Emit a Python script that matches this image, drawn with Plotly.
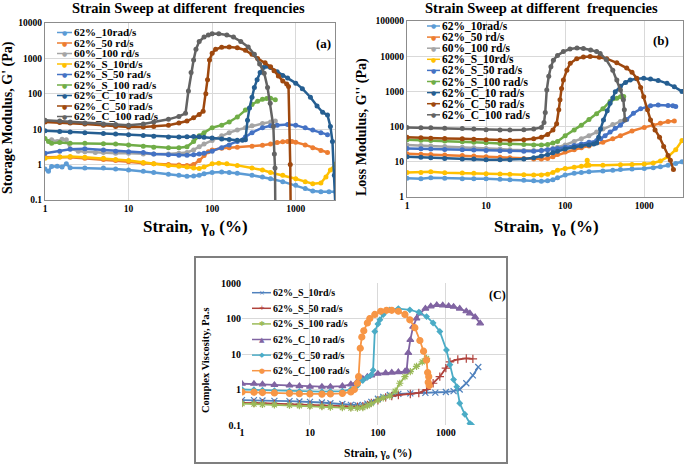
import plotly.graph_objects as go

W, H = 685, 465
FONT = "Liberation Serif"

# ---------------- series names / colours ----------------
AB_NAMES = ["62%_10rad/s", "62%_50 rd/s", "60%_100 rd/s", "62%_S_10rd/s", "62%_S_50 rad/s",
            "62%_S_100 rad/s", "62%_C_10 rad/s", "62%_C_50 rad/s", "62%_C_100 rad/s"]
AB_COLORS = ["#5B9BD5", "#ED7D31", "#A5A5A5", "#FFC000", "#4472C4",
             "#70AD47", "#255E91", "#9E480E", "#636363"]
C_NAMES = ["62%_S_10rd/s", "62%_S_50 rad/s", "62%_S_100 rad/s",
           "62%_C_10 rad/s", "62%_C_50 rad/s", "62%_C_100 rad/s"]
C_COLORS = ["#4F81BD", "#B0423C", "#9BBB59", "#8064A2", "#4BACC6", "#F79646"]

# ---------------- panel (a): storage modulus G' (Pa) ----------------
A_10_x = [1, 1.1, 1.2, 1.4, 1.6, 1.8, 2, 3, 5, 7, 10, 15, 20, 30, 40, 50, 60, 70, 80, 100, 130, 160, 200, 300, 400, 500, 700, 1000, 1300, 1600, 2000, 2500, 3000]
A_10_y = [0.75, 0.65, 0.88, 0.9, 0.85, 1.05, 0.82, 0.8, 0.8, 0.75, 0.7, 0.65, 0.6, 0.53, 0.5, 0.47, 0.48, 0.5, 0.55, 0.6, 0.62, 0.6, 0.57, 0.5, 0.45, 0.4, 0.33, 0.26, 0.21, 0.18, 0.17, 0.17, 0.17]
A_50_x = [1, 1.5, 2, 3, 5, 7, 10, 15, 20, 30, 40, 50, 60, 70, 80, 90, 100, 130, 160, 200, 300, 400, 500, 600, 700, 800, 900, 1000, 1300, 1600, 2000, 2400]
A_50_y = [1.6, 1.65, 1.6, 1.5, 1.4, 1.3, 1.2, 1.1, 1.05, 1.0, 0.97, 0.95, 1.0, 1.3, 1.8, 2.3, 2.6, 2.9, 3.0, 3.1, 3.3, 3.5, 3.8, 4.2, 4.4, 4.5, 4.5, 4.3, 3.6, 3.0, 2.5, 2.2]
A_100_x = [1.2, 1.4, 1.6, 1.8, 2, 2.5, 3, 4, 5, 7, 10, 15, 20, 30, 40, 50, 60, 70, 80, 100, 130, 160, 200, 250, 300, 400, 500, 570]
A_100_y = [5.0, 4.5, 5.2, 5.0, 2.8, 2.4, 2.3, 2.2, 2.2, 2.1, 2.1, 2.0, 2.0, 2.0, 2.1, 2.2, 2.6, 3.2, 3.8, 4.8, 6.5, 8, 9.5, 11, 12.5, 14.5, 16, 17]
A_S10_x = [1, 1.5, 2, 3, 5, 7, 10, 15, 20, 30, 40, 50, 60, 70, 80, 100, 120, 150, 200, 300, 400, 500, 700, 1000, 1300, 1600, 2000, 2300, 2600, 3000]
A_S10_y = [1.5, 1.65, 1.7, 1.6, 1.5, 1.4, 1.3, 1.15, 1.05, 0.95, 0.9, 0.85, 0.8, 0.78, 0.85, 1.05, 1.1, 1.05, 0.95, 0.8, 0.7, 0.6, 0.5, 0.4, 0.33, 0.29, 0.3, 0.45, 0.7, 1.05]
A_S50_x = [1, 1.5, 2, 3, 5, 7, 10, 15, 20, 30, 40, 50, 60, 70, 80, 100, 130, 160, 200, 250, 300, 400, 500, 600, 800, 1000, 1300, 1600, 2000, 2400]
A_S50_y = [2.1, 2.4, 2.7, 2.8, 2.6, 2.4, 2.3, 2.2, 2.0, 1.9, 1.85, 1.85, 1.9, 2.0, 2.1, 2.4, 3.0, 3.6, 4.5, 6.0, 8, 11, 12.5, 13, 13.5, 13, 11, 9.5, 8, 7]
A_S100_x = [1, 1.1, 1.2, 1.5, 2, 3, 5, 7, 10, 15, 20, 30, 40, 50, 60, 70, 80, 100, 130, 160, 200, 250, 300, 350, 400, 450, 500, 570]
A_S100_y = [5.5, 4.5, 4.0, 4.2, 4.0, 4.0, 3.9, 3.8, 3.6, 3.3, 3.1, 3.0, 3.0, 3.2, 4.5, 6.5, 8, 11, 13, 16, 22, 35, 50, 62, 70, 74, 75, 68]
A_C10_x = [1, 1.5, 2, 3, 5, 7, 10, 15, 20, 30, 40, 50, 60, 70, 80, 100, 130, 160, 200, 230, 250, 265, 280, 300, 320, 345, 375, 410, 450, 500, 600, 700, 800, 1000, 1200, 1500, 1800, 2100, 2400, 2600, 2750, 2900, 3000]
A_C10_y = [9, 8.6, 8.3, 8, 7.6, 7.3, 7, 6.6, 6.3, 6, 6, 6.1, 6.2, 6.1, 5.9, 5.6, 5.3, 5.1, 4.9, 4.9, 5, 18, 40, 80, 150, 250, 400, 550, 600, 550, 420, 330, 280, 200, 140, 80, 45, 30, 25, 12, 4.5, 0.5, 0.05]
A_C50_x = [1, 1.5, 2, 3, 5, 7, 10, 15, 20, 30, 40, 50, 60, 70, 78, 84, 88, 93, 100, 110, 130, 160, 200, 250, 300, 350, 430, 500, 550, 620, 700, 780, 820, 860, 870]
A_C50_y = [16, 15.5, 15, 14, 13, 12, 11.5, 11.5, 12, 13, 15, 17, 21, 26, 32, 100, 250, 900, 1400, 1800, 2050, 2100, 2000, 1700, 1300, 1000, 750, 580, 450, 320, 230, 190, 160, 1, 0.05]
A_C100_x = [1, 1.5, 2, 3, 5, 7, 10, 15, 20, 30, 40, 48, 52, 56, 60, 64, 70, 80, 90, 100, 120, 150, 180, 220, 270, 320, 370, 420, 460, 495, 540, 555, 565, 570]
A_C100_y = [18, 17, 16, 15, 14, 13.5, 13, 14, 16, 19, 23, 28, 120, 400, 900, 1800, 3000, 4000, 4600, 5000, 5000, 4600, 4000, 3000, 2100, 1300, 700, 380, 150, 54, 12, 2, 0.8, 0.05]

# ---------------- panel (b): loss modulus G'' (Pa) ----------------
B_10_x = [1, 1.5, 2, 3, 5, 7, 10, 15, 20, 30, 40, 50, 60, 70, 80, 100, 130, 160, 200, 300, 400, 500, 700, 1000, 1300, 1600, 2000, 2500, 3000]
B_10_y = [3.4, 3.3, 3.5, 3.4, 3.3, 3.3, 3.3, 3.2, 3.1, 3.0, 2.9, 2.8, 2.9, 3.1, 3.5, 4.2, 4.7, 5.0, 5.2, 5.5, 5.8, 6.0, 6.2, 6.5, 6.8, 7.2, 8, 9, 10]
B_50_x = [1, 1.5, 2, 3, 5, 7, 10, 15, 20, 30, 40, 50, 60, 70, 80, 100, 130, 160, 200, 300, 400, 500, 700, 1000, 1300, 1600, 2000, 2400]
B_50_y = [17, 16.5, 16, 15.5, 15, 14.5, 14, 13.5, 13, 12.5, 12, 12, 12.5, 14, 16, 19, 22, 25, 28, 36, 45, 55, 75, 95, 110, 125, 140, 145]
B_100_x = [1, 1.5, 2, 3, 5, 7, 10, 15, 20, 30, 40, 50, 60, 70, 80, 100, 130, 160, 200, 250, 300, 400, 500, 570]
B_100_y = [30, 29, 28, 27, 26, 25, 24, 23, 22, 21, 21, 21, 22, 24, 26, 30, 38, 45, 55, 70, 85, 115, 140, 160]
B_S10_x = [1, 1.5, 2, 3, 5, 7, 10, 15, 20, 30, 40, 50, 60, 70, 80, 100, 130, 160, 185, 190, 200, 300, 500, 700, 1000, 1300, 1600, 2000, 2500, 3000]
B_S10_y = [5.0, 5.0, 5.2, 4.9, 4.8, 4.7, 4.6, 4.5, 4.4, 4.3, 4.2, 4.2, 4.4, 5.0, 5.8, 6.5, 7.0, 7.5, 7.8, 11, 8, 8, 8.2, 8.4, 8.7, 9.2, 10.5, 14, 22, 40]
B_S50_x = [1, 1.5, 2, 3, 5, 7, 10, 15, 20, 30, 40, 50, 60, 70, 80, 100, 130, 160, 200, 250, 280, 320, 370, 430, 500, 600, 730, 900, 1200, 1500, 2000, 2300, 2500]
B_S50_y = [24, 23.5, 23, 22.5, 22, 21.5, 21, 20.5, 20, 20, 20, 21, 22, 23, 24, 26, 29, 32, 36, 40, 45, 55, 70, 90, 110, 160, 240, 320, 390, 410, 400, 390, 370]
B_S100_x = [1, 1.5, 2, 3, 5, 7, 10, 15, 20, 30, 40, 50, 60, 70, 80, 100, 130, 160, 200, 250, 300, 370, 450, 500, 550]
B_S100_y = [42, 41, 40, 39, 37, 36, 35, 33, 32, 31, 30, 30, 31, 34, 38, 55, 80, 110, 160, 230, 320, 520, 640, 700, 720]
B_C10_x = [1, 1.5, 2, 3, 5, 7, 10, 15, 20, 30, 40, 50, 60, 70, 80, 100, 130, 160, 200, 230, 250, 265, 280, 305, 340, 370, 400, 430, 500, 580, 665, 800, 985, 1200, 1500, 1940, 2400, 3000]
B_C10_y = [14, 13.5, 13, 12.5, 12, 12, 11.5, 11.5, 11.5, 12, 13, 14.5, 16, 18, 20, 23, 26, 28, 30, 32, 34, 50, 85, 155, 280, 460, 650, 970, 1400, 1800, 2100, 2300, 2350, 2250, 2050, 1700, 1350, 1000]
B_C50_x = [1, 1.5, 2, 3, 5, 7, 10, 15, 20, 30, 40, 50, 60, 70, 78, 83, 86, 90, 95, 105, 116, 140, 170, 207, 270, 335, 450, 600, 700, 805, 900, 985, 1100, 1200, 1370, 1560, 1760, 2000, 2140, 2340]
B_C50_y = [50, 48, 47, 46, 45, 44, 42, 41, 41, 42, 45, 50, 60, 80, 120, 300, 580, 1200, 2100, 4000, 6300, 8500, 9500, 9800, 9300, 8500, 6500, 4600, 3500, 2350, 1300, 710, 300, 155, 80, 50, 27, 15, 11, 6]
B_C100_x = [1, 1.5, 2, 3, 5, 7, 10, 15, 20, 30, 40, 50, 54, 56, 58.5, 62, 66, 71, 80, 95, 115, 141, 170, 210, 250, 277, 330, 400, 450, 500, 545, 560, 570]
B_C100_y = [95, 93, 92, 90, 88, 85, 82, 80, 80, 82, 85, 95, 130, 250, 1100, 2700, 5000, 7700, 10500, 13500, 16000, 17000, 16500, 15000, 13500, 12000, 8000, 4000, 2100, 1100, 580, 300, 155]

# ---------------- panel (c): complex viscosity (Pa.s) ----------------
C_S10_x = [1, 1.5, 2, 3, 5, 7, 10, 15, 20, 30, 40, 50, 60, 70, 80, 100, 120, 150, 200, 300, 500, 700, 1000, 1300, 1600, 2000, 2500, 3000]
C_S10_y = [0.5, 0.5, 0.49, 0.48, 0.47, 0.46, 0.45, 0.43, 0.41, 0.39, 0.37, 0.36, 0.37, 0.4, 0.45, 0.55, 0.62, 0.7, 0.75, 0.78, 0.8, 0.82, 0.85, 0.9, 1.0, 1.5, 2.5, 4.3]
C_S50_x = [1, 1.5, 2, 3, 5, 7, 10, 15, 20, 30, 40, 50, 60, 70, 80, 100, 130, 160, 200, 300, 400, 520, 650, 815, 1000, 1150, 1500, 2000, 2500]
C_S50_y = [0.42, 0.42, 0.41, 0.4, 0.39, 0.38, 0.37, 0.36, 0.35, 0.34, 0.33, 0.33, 0.34, 0.37, 0.42, 0.5, 0.6, 0.65, 0.7, 0.75, 0.8, 1.0, 1.5, 2.3, 4, 6, 7, 7.5, 7.3]
C_S100_x = [1, 1.5, 2, 3, 5, 7, 10, 15, 20, 30, 40, 50, 60, 70, 80, 100, 120, 150, 180, 210, 250, 300, 370, 450, 520]
C_S100_y = [0.4, 0.39, 0.38, 0.37, 0.36, 0.35, 0.34, 0.33, 0.32, 0.31, 0.3, 0.3, 0.31, 0.35, 0.4, 0.5, 0.58, 0.65, 0.9, 1.5, 2.3, 3.2, 4.5, 6, 7.5]
C_C10_x = [1, 1.5, 2, 3, 5, 7, 10, 15, 20, 30, 40, 50, 60, 70, 80, 100, 130, 160, 200, 250, 265, 280, 300, 330, 370, 415, 500, 600, 735, 900, 1100, 1300, 1600, 2000, 2260, 2700, 3200]
C_C10_y = [1.45, 1.45, 1.4, 1.35, 1.3, 1.25, 1.2, 1.2, 1.2, 1.25, 1.4, 1.7, 2.0, 2.3, 2.5, 2.8, 2.9, 3.0, 3.1, 3.2, 3.5, 10.8, 25, 59, 100, 140, 190, 220, 240, 235, 225, 215, 190, 160, 140, 110, 73]
C_C50_x = [1, 1.5, 2, 3, 5, 7, 10, 15, 20, 30, 40, 50, 60, 70, 80, 85, 90, 100, 107, 120, 150, 200, 295, 400, 520, 650, 815, 1020, 1150, 1300, 1450, 1600, 1900, 2260, 2400]
C_C50_y = [1.0, 0.98, 0.95, 0.92, 0.9, 0.88, 0.87, 0.87, 0.88, 0.9, 1.0, 1.3, 1.8, 2.2, 2.6, 3.5, 43, 70, 92, 130, 175, 190, 175, 150, 113, 75, 43, 13, 5, 1.9, 1.2, 0.41, 0.2, 0.11, 0.1]
C_C100_x = [1, 1.5, 2, 3, 5, 7, 10, 15, 20, 30, 40, 45, 50, 52, 55, 58, 62, 70, 76, 90, 110, 134, 160, 200, 250, 295, 350, 415, 470, 520, 540, 550, 560, 570]
C_C100_y = [0.85, 0.84, 0.82, 0.8, 0.78, 0.76, 0.75, 0.74, 0.75, 0.78, 0.85, 1.0, 1.5, 2.3, 14.5, 30, 45, 75, 100, 130, 160, 170, 170, 160, 130, 92, 55, 24, 12, 6.7, 3, 1.6, 2.3, 1.3]

# ---------------- tick labels ----------------
X_TICKS = [1, 10, 100, 1000]
A_YTICKS = [0.1, 1, 10, 100, 1000, 10000]
B_YTICKS = [1, 10, 100, 1000, 10000, 100000]
C_YTICKS = [0.1, 1, 10, 100, 1000]

A_SERIES = [(A_10_x, A_10_y), (A_50_x, A_50_y), (A_100_x, A_100_y), (A_S10_x, A_S10_y), (A_S50_x, A_S50_y),
            (A_S100_x, A_S100_y), (A_C10_x, A_C10_y), (A_C50_x, A_C50_y), (A_C100_x, A_C100_y)]
B_SERIES = [(B_10_x, B_10_y), (B_50_x, B_50_y), (B_100_x, B_100_y), (B_S10_x, B_S10_y), (B_S50_x, B_S50_y),
            (B_S100_x, B_S100_y), (B_C10_x, B_C10_y), (B_C50_x, B_C50_y), (B_C100_x, B_C100_y)]
C_SERIES = [(C_S10_x, C_S10_y), (C_S50_x, C_S50_y), (C_S100_x, C_S100_y),
            (C_C10_x, C_C10_y), (C_C50_x, C_C50_y), (C_C100_x, C_C100_y)]
C_SYMBOLS = ["x-thin", "cross-thin", "asterisk", "triangle-up", "diamond", "circle"]
C_MSIZES = [6, 6, 6, 6, 4, 6]
C_GLYPHS = ["×", "+", "✱", "▲", "◆", "●"]


def px(x):
    return x / W


def py(y):
    return 1 - y / H


fig = go.Figure()

for (xs, ys), name, col in zip(A_SERIES, AB_NAMES, AB_COLORS):
    fig.add_trace(go.Scatter(x=xs, y=ys, name=name, mode="lines+markers", xaxis="x", yaxis="y",
                             line=dict(color=col, width=2.5), marker=dict(symbol="circle", size=5, color=col),
                             showlegend=False))
for (xs, ys), name, col in zip(B_SERIES, AB_NAMES, AB_COLORS):
    fig.add_trace(go.Scatter(x=xs, y=ys, name=name, mode="lines+markers", xaxis="x2", yaxis="y2",
                             line=dict(color=col, width=2.5), marker=dict(symbol="circle", size=5, color=col),
                             showlegend=False))
for (xs, ys), name, col, sym, ms in zip(C_SERIES, C_NAMES, C_COLORS, C_SYMBOLS, C_MSIZES):
    fig.add_trace(go.Scatter(x=xs, y=ys, name=name, mode="lines+markers", xaxis="x3", yaxis="y3",
                             line=dict(color=col, width=1.8),
                             marker=dict(symbol=sym, size=ms, color=col, line=dict(color=col, width=1.2)),
                             showlegend=False))


def axis(dom, rng, vals, fs, anchor, border):
    return dict(type="log", domain=dom, range=rng, tickvals=vals, ticktext=[str(v) for v in vals],
                tickfont=dict(family=FONT, size=fs, color="black", weight="bold"),
                showgrid=True, gridcolor="#D9D9D9", gridwidth=1, zeroline=False,
                showline=border, linecolor="#8C8C8C", linewidth=1, mirror=border,
                ticks="", anchor=anchor, automargin=False, fixedrange=True)


shapes = []
annotations = []


def text(t, x, y, size, angle=0, xanchor="center"):
    annotations.append(dict(text=t, x=px(x), y=py(y), xref="paper", yref="paper", showarrow=False,
                            xanchor=xanchor, yanchor="middle", textangle=angle, borderpad=0,
                            font=dict(family=FONT, size=size, color="black", weight="bold")))


def legend(names, colors, glyphs, xl0, xl1, xt, y0, dy, fs, gs):
    for i, (n, c, g) in enumerate(zip(names, colors, glyphs)):
        y = y0 + dy * i
        shapes.append(dict(type="line", xref="paper", yref="paper", x0=px(xl0), x1=px(xl1),
                           y0=py(y), y1=py(y), line=dict(color=c, width=1.5)))
        annotations.append(dict(text=g, x=px((xl0 + xl1) / 2), y=py(y), xref="paper", yref="paper",
                                showarrow=False, xanchor="center", yanchor="middle", borderpad=0,
                                font=dict(family="DejaVu Sans", size=gs, color=c)))
        text(n, xt, y, fs, xanchor="left")


# titles and axis labels
text("Strain Sweep at different  frequencies", 188, 8, 14.5)
text("Strain Sweep at different  frequencies", 541, 8, 14.5)
text("Strain,  γ<sub>o</sub> (%)", 196, 228, 17)
text("Strain,  γ<sub>o</sub> (%)", 546, 228, 17)
text("Storage Modulus, G' (Pa)", 8, 118, 14, angle=-90)
text("Loss Modulus, G'' (Pa)", 362, 127, 14, angle=-90)
text("(a)", 323, 43, 13)
text("(b)", 661, 41, 13)
text("Complex Viscosity, Pa.s", 205, 360, 10.5, angle=-90)
text("Strain, γ<sub>o</sub> (%)", 378, 454, 11.5)
text("(C)", 497, 295, 12)

legend(AB_NAMES, AB_COLORS, ["●"] * 9, 57, 72, 73, 32.5, 10.5, 11, 6)
legend(AB_NAMES, AB_COLORS, ["●"] * 9, 427, 440, 441, 26, 11.1, 11.5, 6)
legend(C_NAMES, C_COLORS, C_GLYPHS, 252, 271, 272, 292.7, 15.6, 10, 7)

# frame around panel (c)
shapes.append(dict(type="rect", xref="paper", yref="paper", x0=px(195), x1=px(507), y0=py(463), y1=py(257),
                   line=dict(color="#7F7F7F", width=2), fillcolor="rgba(0,0,0,0)", layer="above"))

fig.update_layout(
    width=W, height=H, margin=dict(l=0, r=0, t=0, b=0), autosize=False,
    paper_bgcolor="white", plot_bgcolor="white", showlegend=False,
    font=dict(family=FONT, color="black"),
    xaxis=axis([px(45), px(335)], [0, 3.47], X_TICKS, 9.5, "y", True),
    yaxis=axis([py(200), py(23)], [-1, 4], A_YTICKS, 9.5, "x", True),
    xaxis2=axis([px(407), px(683)], [0, 3.49], X_TICKS, 9.5, "y2", True),
    yaxis2=axis([py(197), py(21)], [0, 5], B_YTICKS, 9.5, "x2", True),
    xaxis3=axis([px(242), px(507)], [0, 3.9], X_TICKS, 10, "y3", False),
    yaxis3=axis([py(425), py(283)], [-1, 3], C_YTICKS, 10, "x3", False),
    shapes=shapes, annotations=annotations,
)

fig.write_html("out.html", config={"displayModeBar": False},
               post_script="document.body.style.margin='0px';")
